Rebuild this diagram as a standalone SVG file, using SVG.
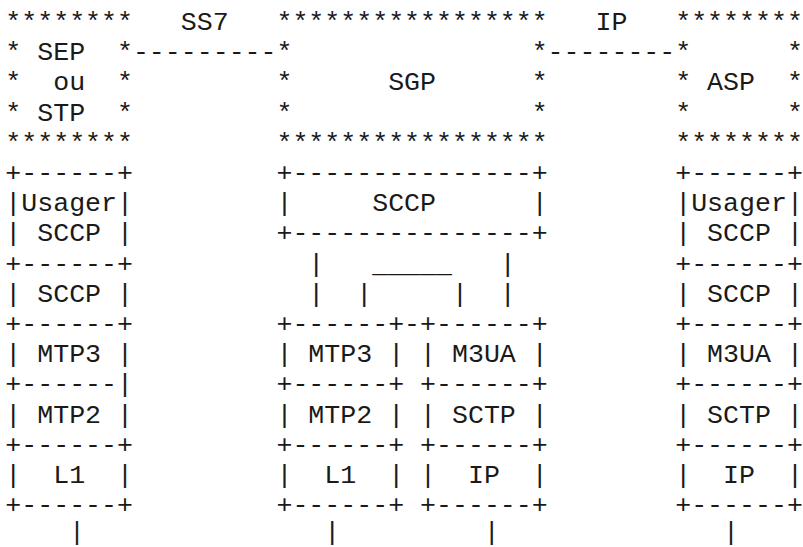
<svg xmlns="http://www.w3.org/2000/svg" width="803" height="547" viewBox="0 0 803 547">
<style>
text{font-family:"Courier New","Liberation Mono",monospace;font-size:26.6px;fill:#1a1a1a;white-space:pre}
</style>
<rect width="803" height="547" fill="#fff"/>
<g id="sep-node" xml:space="preserve">
<text x="5.3" y="30">********</text>
<text x="5.3" y="60.2">* SEP  *</text>
<text x="5.3" y="90.4">*  ou  *</text>
<text x="5.3" y="120.6">* STP  *</text>
<text x="5.3" y="150.8">********</text>
</g>
<g id="sgp-node" xml:space="preserve">
<text x="276.45" y="30">*****************</text>
<text x="276.45" y="60.2">*               *</text>
<text x="276.45" y="90.4">*      SGP      *</text>
<text x="276.45" y="120.6">*               *</text>
<text x="276.45" y="150.8">*****************</text>
</g>
<g id="asp-node" xml:space="preserve">
<text x="675.2" y="30">********</text>
<text x="675.2" y="60.2">*      *</text>
<text x="675.2" y="90.4">* ASP  *</text>
<text x="675.2" y="120.6">*      *</text>
<text x="675.2" y="150.8">********</text>
</g>
<g id="connectors" xml:space="preserve">
<text x="180.75" y="30">SS7</text>
<text x="132.9" y="60.2">---------</text>
<text x="595.45" y="30">IP</text>
<text x="547.6" y="60.2">--------</text>
<text x="69.1" y="540">|</text>
<text x="324.3" y="540">|</text>
<text x="483.8" y="540">|</text>
<text x="723.05" y="540">|</text>
</g>
<g id="sep-stack" xml:space="preserve">
<text x="5.3" y="181">+------+</text>
<text x="5.3" y="211.2">|Usager|</text>
<text x="5.3" y="241.4">| SCCP |</text>
<text x="5.3" y="271.6">+------+</text>
<text x="5.3" y="301.8">| SCCP |</text>
<text x="5.3" y="332">+------+</text>
<text x="5.3" y="362.2">| MTP3 |</text>
<text x="5.3" y="392.4">+------|</text>
<text x="5.3" y="422.6">| MTP2 |</text>
<text x="5.3" y="452.8">+------+</text>
<text x="5.3" y="483">|  L1  |</text>
<text x="5.3" y="513.2">+------+</text>
</g>
<g id="sgp-stack" xml:space="preserve">
<text x="276.45" y="181">+---------------+</text>
<text x="276.45" y="211.2">|     SCCP      |</text>
<text x="276.45" y="241.4">+---------------+</text>
<text x="276.45" y="271.6">  |   _____   |</text>
<text x="276.45" y="301.8">  |  |     |  |</text>
<text x="276.45" y="332">+------+-+------+</text>
<text x="276.45" y="362.2">| MTP3 | | M3UA |</text>
<text x="276.45" y="392.4">+------+ +------+</text>
<text x="276.45" y="422.6">| MTP2 | | SCTP |</text>
<text x="276.45" y="452.8">+------+ +------+</text>
<text x="276.45" y="483">|  L1  | |  IP  |</text>
<text x="276.45" y="513.2">+------+ +------+</text>
</g>
<g id="asp-stack" xml:space="preserve">
<text x="675.2" y="181">+------+</text>
<text x="675.2" y="211.2">|Usager|</text>
<text x="675.2" y="241.4">| SCCP |</text>
<text x="675.2" y="271.6">+------+</text>
<text x="675.2" y="301.8">| SCCP |</text>
<text x="675.2" y="332">+------+</text>
<text x="675.2" y="362.2">| M3UA |</text>
<text x="675.2" y="392.4">+------+</text>
<text x="675.2" y="422.6">| SCTP |</text>
<text x="675.2" y="452.8">+------+</text>
<text x="675.2" y="483">|  IP  |</text>
<text x="675.2" y="513.2">+------+</text>
</g>
</svg>
